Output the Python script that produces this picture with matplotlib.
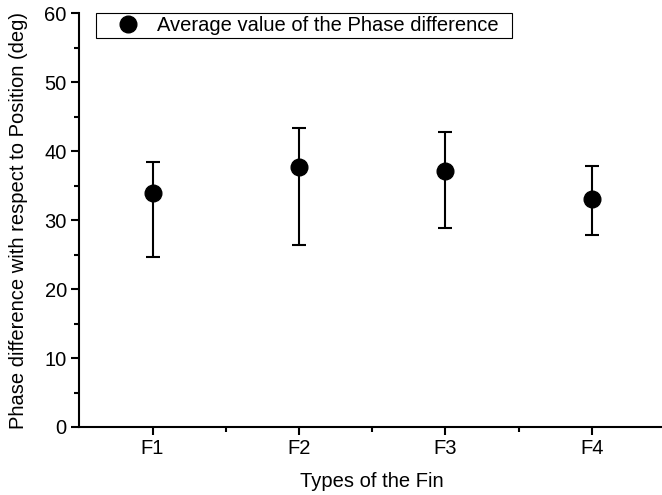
import matplotlib
matplotlib.use("Agg")
import matplotlib.pyplot as plt
from matplotlib.ticker import MultipleLocator
from matplotlib.lines import Line2D

categories = ["F1", "F2", "F3", "F4"]
mean_vals = [34.0, 37.7, 37.2, 33.0]
upper_vals = [38.5, 43.3, 42.8, 37.9]
lower_vals = [24.6, 26.4, 28.9, 27.9]

plt.rcParams['font.family'] = ['Liberation Sans', 'DejaVu Sans']
FS = 14.5

W, H = 662, 495
fig = plt.figure(figsize=(W / 100, H / 100), dpi=100)
left, right, bottom, top = 79.3, 665, 427, 13.3
ax = fig.add_axes([left / W, 1 - bottom / H, (right - left) / W, (bottom - top) / H])

x = list(range(1, len(categories) + 1))
yerr_low = [m - l for m, l in zip(mean_vals, lower_vals)]
yerr_up = [u - m for m, u in zip(mean_vals, upper_vals)]

ax.errorbar(x, mean_vals, yerr=[yerr_low, yerr_up], fmt='o', color='black',
            markersize=12, elinewidth=1.5, capsize=5, capthick=1.5)

ax.set_xlim(0.5, 4.5)
ax.set_ylim(0, 60)
ax.set_xticks(x)
ax.set_xticklabels(categories)
ax.set_xticks([1.5, 2.5, 3.5], minor=True)
ax.yaxis.set_major_locator(MultipleLocator(10))
ax.yaxis.set_minor_locator(MultipleLocator(5))

for s in ['top', 'right']:
    ax.spines[s].set_visible(False)
for s in ['left', 'bottom']:
    ax.spines[s].set_linewidth(1.5)

ax.tick_params(which='major', direction='out', length=6, width=1.5, labelsize=FS, pad=3)
ax.tick_params(which='minor', direction='out', length=3.5, width=1.5)

ax.set_xlabel('Types of the Fin', fontsize=FS, labelpad=10)
ax.set_ylabel('Phase difference with respect to Position (deg)', fontsize=FS, labelpad=12)

handle = Line2D([], [], marker='o', linestyle='none', color='black', markersize=12)
leg = ax.legend([handle], ['Average value of the Phase difference  '],
                loc='upper left', bbox_to_anchor=((95.5 - left) / (right - left), 1.0),
                frameon=True, fancybox=False, edgecolor='black', framealpha=1,
                fontsize=FS, borderpad=0.15, handletextpad=0.0, borderaxespad=0,
                handlelength=2.88)
leg.get_frame().set_linewidth(0.8)

fig.savefig('out.png', dpi=100)
